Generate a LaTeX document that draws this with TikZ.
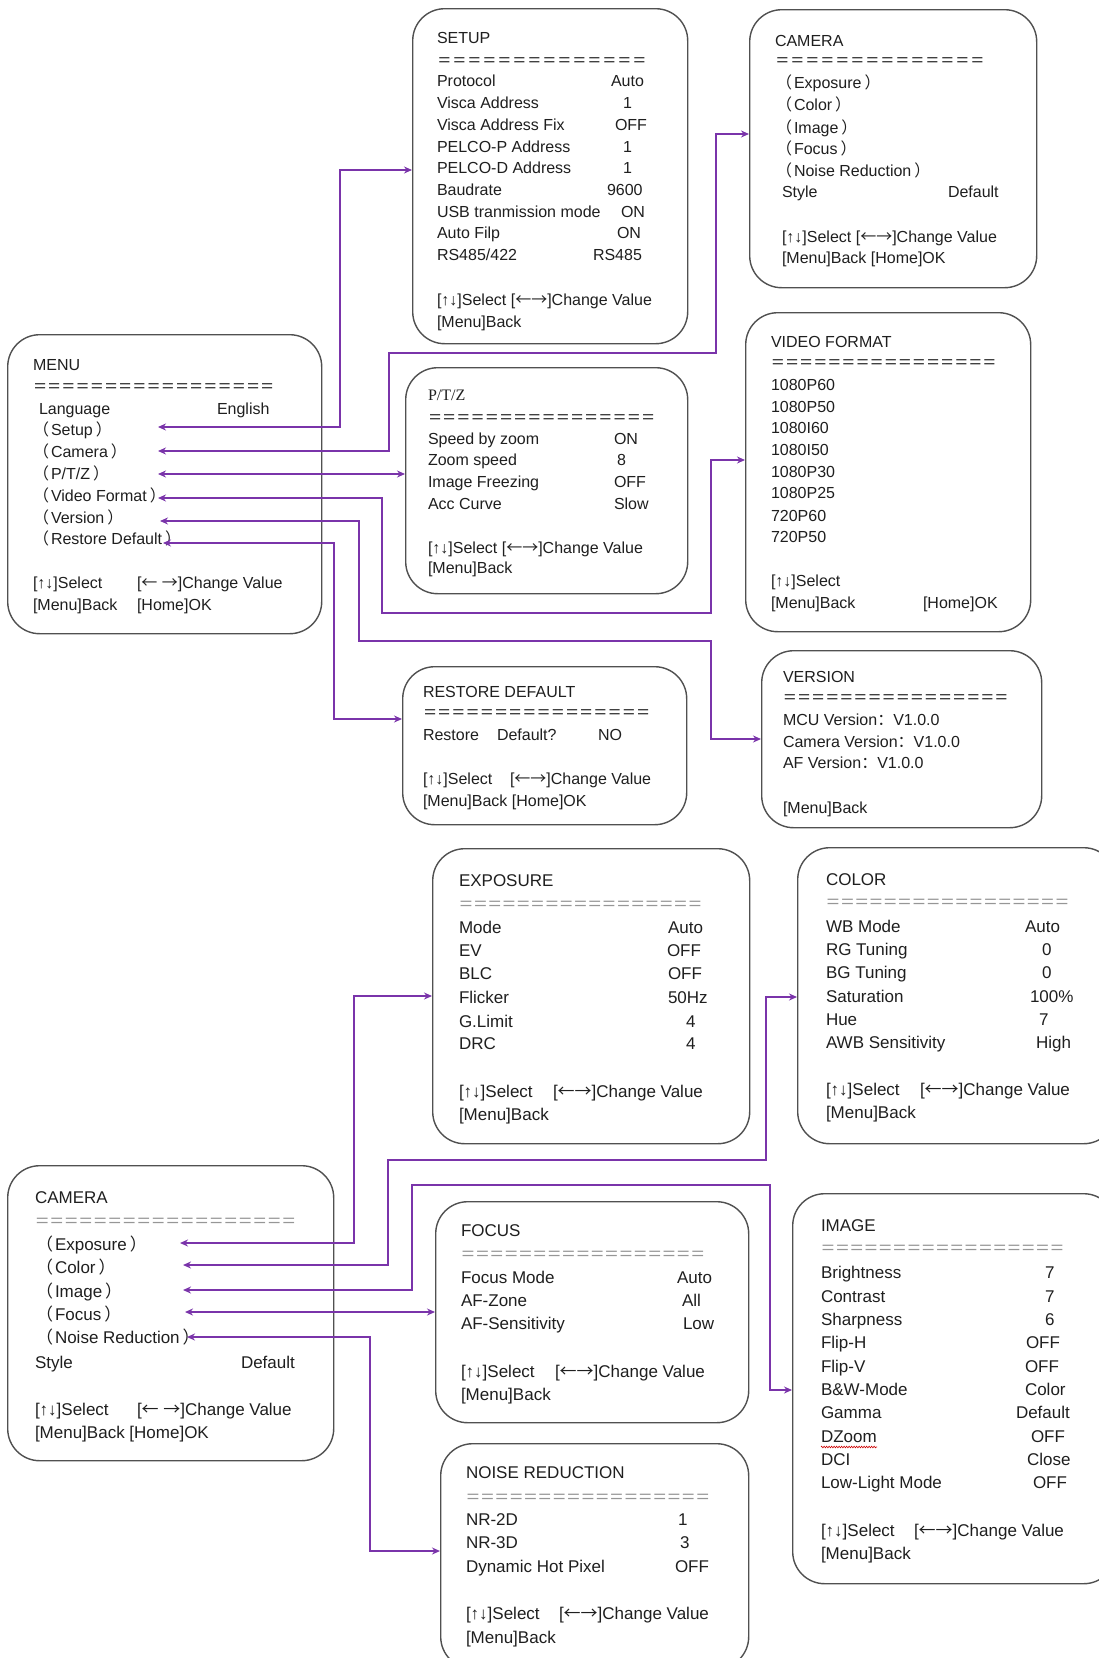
\documentclass[tikz,border=0pt]{standalone}
\usepackage{fontspec}
\usepackage{graphicx}
\setmainfont{Liberation Sans}
\newfontfamily\cjk{Noto Sans CJK SC}
\newfontfamily\serifP{Liberation Serif}
\usetikzlibrary{arrows.meta,decorations.pathmorphing}
\definecolor{conncol}{RGB}{122,52,170}
\definecolor{boxcol}{RGB}{80,80,80}
\definecolor{eqgray}{RGB}{150,150,150}
\newcounter{tn}
\newcount\eqcnt
\newcommand\eqrow[2]{\eqcnt=#1\relax\loop\makebox[#2pt]{\scalebox{1.3}[1]{=}}\advance\eqcnt by -1\relax\ifnum\eqcnt>0\repeat}
\newcommand\T[2]{\stepcounter{tn}\edef\tnm{t\number\value{tn}}\node[txt] (\tnm) at (#1) {#2};}
\newcommand\R[4]{\T{\bx,#1}{#2}\T{#3,#1}{#4}}
\newcommand\Ln[2]{\T{\bx,#1}{#2}}
\newcommand\lp{{\cjk （}\hspace{2pt}}
\newcommand\rp{\hspace{3pt}{\cjk ）}}
\newcommand\fc{{\cjk ：}}
\newcommand\LR{{\cjk ←→}}
\newcommand\LsR{{\cjk ←} {\cjk →}}
\def\tf{\fontsize{16}{19}\selectfont}
\tikzset{
  txt/.style={anchor=base west, inner sep=0pt, outer sep=0pt, text=black!88, font=\tf},
  box/.style={draw=boxcol, line width=1.4pt, rounded corners=32pt, anchor=north west, inner sep=0pt, fill=white},
  conn/.style={draw=conncol, line width=1.8pt, arrows={Stealth[length=8pt,width=7pt]-Stealth[length=8pt,width=7pt]}}
}
\begin{document}
\begin{tikzpicture}[x=1pt,y=-1pt]
\useasboundingbox (0,0) rectangle (1099,1658);
\clip (0,0) rectangle (1099,1658);
\fill[white] (0,0) rectangle (1099,1658);

% ---------------- boxes ----------------
\node[box, minimum width=314pt, minimum height=299pt] (menu) at (7,334) {};
\node[box, minimum width=275pt, minimum height=335pt] (setup) at (412,8) {};
\node[box, minimum width=287pt, minimum height=278pt] (camA) at (749,9) {};
\node[box, minimum width=282pt, minimum height=226pt] (ptz) at (405,367) {};
\node[box, minimum width=285pt, minimum height=319pt] (vf) at (745,312) {};
\node[box, minimum width=284pt, minimum height=158pt] (rd) at (402,666) {};
\node[box, minimum width=280pt, minimum height=177pt] (ver) at (761,650) {};
\node[box, minimum width=326pt, minimum height=295pt] (camB) at (7,1165) {};
\node[box, minimum width=317pt, minimum height=295pt] (expo) at (432,848) {};
\node[box, minimum width=318pt, minimum height=296pt] (color) at (797,847) {};
\node[box, minimum width=313pt, minimum height=221pt] (focus) at (435,1201) {};
\node[box, minimum width=308pt, minimum height=225pt] (nr) at (440,1443) {};
\node[box, minimum width=323pt, minimum height=390pt] (image) at (792,1193) {};

% ---------------- MENU ----------------
\def\bx{33}
\Ln{370}{MENU}
\Ln{391}{\eqrow{17}{14.2}}
\T{39,414}{Language}\T{217,414}{English}
\Ln{435}{\lp Setup\rp}
\Ln{457}{\lp Camera\rp}
\Ln{479}{\lp P/T/Z\rp}
\Ln{501}{\lp Video Format\rp}
\Ln{523}{\lp Version\rp}
\Ln{544}{\lp Restore Default\rp}
\R{588}{[↑↓]Select}{137}{[\LsR]Change Value}
\R{610}{[Menu]Back}{137}{[Home]OK}

% ---------------- SETUP ----------------
\def\bx{437}
\Ln{43}{SETUP}
\Ln{65}{\eqrow{14}{15}}
\R{86}{Protocol}{611}{Auto}
\R{108}{Visca Address}{623}{1}
\R{130}{Visca Address Fix}{615}{OFF}
\R{152}{PELCO-P Address}{623}{1}
\R{173}{PELCO-D Address}{623}{1}
\R{195}{Baudrate}{607}{9600}
\R{217}{USB tranmission mode}{621}{ON}
\R{238}{Auto Filp}{617}{ON}
\R{260}{RS485/422}{593}{RS485}
\Ln{305}{[↑↓]Select [\LR]Change Value}
\Ln{327}{[Menu]Back}

% ---------------- CAMERA (top) ----------------
\def\bx{776}
\T{775,46}{CAMERA}
\T{775,65}{\eqrow{14}{15}}
\Ln{88}{\lp Exposure\rp}
\Ln{110}{\lp Color\rp}
\Ln{133}{\lp Image\rp}
\Ln{154}{\lp Focus\rp}
\Ln{176}{\lp Noise Reduction\rp}
\def\bx{782}
\R{197}{Style}{948}{Default}
\Ln{242}{[↑↓]Select [\LR]Change Value}
\Ln{263}{[Menu]Back [Home]OK}

% ---------------- P/T/Z ----------------
\def\bx{428}
\Ln{400}{\serifP P/T/Z}
\Ln{422}{\eqrow{16}{14.2}}
\R{444}{Speed by zoom}{614}{ON}
\R{465}{Zoom speed}{617}{8}
\R{487}{Image Freezing}{614}{OFF}
\R{509}{Acc Curve}{614}{Slow}
\Ln{553}{[↑↓]Select [\LR]Change Value}
\Ln{573}{[Menu]Back}

% ---------------- VIDEO FORMAT ----------------
\def\bx{771}
\Ln{347}{VIDEO FORMAT}
\Ln{367}{\eqrow{16}{14.1}}
\Ln{390}{1080P60}
\Ln{412}{1080P50}
\Ln{433}{1080I60}
\Ln{455}{1080I50}
\Ln{477}{1080P30}
\Ln{498}{1080P25}
\Ln{521}{720P60}
\Ln{542}{720P50}
\Ln{586}{[↑↓]Select}
\R{608}{[Menu]Back}{923}{[Home]OK}

% ---------------- RESTORE DEFAULT ----------------
\def\bx{423}
\Ln{697}{RESTORE DEFAULT}
\Ln{717}{\eqrow{16}{14.2}}
\R{740}{Restore}{497}{Default?}
\T{598,740}{NO}
\R{784}{[↑↓]Select}{510}{[\LR]Change Value}
\Ln{806}{[Menu]Back [Home]OK}

% ---------------- VERSION ----------------
\def\bx{783}
\Ln{682}{VERSION}
\Ln{702}{\eqrow{16}{14.1}}
\Ln{725}{MCU Version\fc V1.0.0}
\Ln{747}{Camera Version\fc V1.0.0}
\Ln{768}{AF Version\fc V1.0.0}
\Ln{813}{[Menu]Back}

% ================= bottom half =================
\def\tf{\fontsize{17}{20}\selectfont}

% ---------------- CAMERA (bottom) ----------------
\def\bx{35}
\Ln{1203}{CAMERA}
\Ln{1226}{\color{eqgray}\eqrow{18}{14.5}}
\T{36,1250}{\lp Exposure\rp}
\T{36,1273}{\lp Color\rp}
\T{36,1297}{\lp Image\rp}
\T{36,1320}{\lp Focus\rp}
\T{36,1343}{\lp Noise Reduction\rp}
\R{1368}{Style}{241}{Default}
\R{1415}{[↑↓]Select}{137}{[\LsR]Change Value}
\Ln{1438}{[Menu]Back [Home]OK}

% ---------------- EXPOSURE ----------------
\def\bx{459}
\Ln{886}{EXPOSURE}
\Ln{909}{\color{eqgray}\eqrow{17}{14.3}}
\R{933}{Mode}{668}{Auto}
\R{956}{EV}{667}{OFF}
\R{979}{BLC}{668}{OFF}
\R{1003}{Flicker}{668}{50Hz}
\R{1027}{G.Limit}{686}{4}
\R{1049}{DRC}{686}{4}
\R{1097}{[↑↓]Select}{553}{[\LR]Change Value}
\Ln{1120}{[Menu]Back}

% ---------------- COLOR ----------------
\def\bx{826}
\Ln{885}{COLOR}
\Ln{907}{\color{eqgray}\eqrow{17}{14.3}}
\R{932}{WB Mode}{1025}{Auto}
\R{955}{RG Tuning}{1042}{0}
\R{978}{BG Tuning}{1042}{0}
\R{1002}{Saturation}{1030}{100\%}
\R{1025}{Hue}{1039}{7}
\R{1048}{AWB Sensitivity}{1036}{High}
\R{1095}{[↑↓]Select}{920}{[\LR]Change Value}
\Ln{1118}{[Menu]Back}

% ---------------- FOCUS ----------------
\def\bx{461}
\Ln{1236}{FOCUS}
\Ln{1259}{\color{eqgray}\eqrow{17}{14.35}}
\R{1283}{Focus Mode}{677}{Auto}
\R{1306}{AF-Zone}{682}{All}
\R{1329}{AF-Sensitivity}{683}{Low}
\R{1377}{[↑↓]Select}{555}{[\LR]Change Value}
\Ln{1400}{[Menu]Back}

% ---------------- NOISE REDUCTION ----------------
\def\bx{466}
\Ln{1478}{NOISE REDUCTION}
\Ln{1502}{\color{eqgray}\eqrow{17}{14.35}}
\R{1525}{NR-2D}{678}{1}
\R{1548}{NR-3D}{680}{3}
\R{1572}{Dynamic Hot Pixel}{675}{OFF}
\R{1619}{[↑↓]Select}{559}{[\LR]Change Value}
\Ln{1643}{[Menu]Back}

% ---------------- IMAGE ----------------
\def\bx{821}
\Ln{1231}{IMAGE}
\Ln{1253}{\color{eqgray}\eqrow{17}{14.3}}
\R{1278}{Brightness}{1045}{7}
\R{1302}{Contrast}{1045}{7}
\R{1325}{Sharpness}{1045}{6}
\R{1348}{Flip-H}{1026}{OFF}
\R{1372}{Flip-V}{1025}{OFF}
\R{1395}{B\&W-Mode}{1025}{Color}
\R{1418}{Gamma}{1016}{Default}
\R{1442}{DZoom}{1031}{OFF}
\R{1465}{DCI}{1027}{Close}
\R{1488}{Low-Light Mode}{1033}{OFF}
\R{1536}{[↑↓]Select}{914}{[\LR]Change Value}
\Ln{1559}{[Menu]Back}
\draw[red!80!black, line width=0.6pt, decorate, decoration={zigzag, segment length=2.5pt, amplitude=0.8pt}] (821,1447) -- (877,1447);

% ---------------- connector end points ----------------
\coordinate (mSetup) at (158,427);
\coordinate (mCamera) at (158,451);
\coordinate (mPTZ) at (158,474);
\coordinate (mVF) at (158,498);
\coordinate (mVer) at (160,521);
\coordinate (mRD) at (163,543);
\coordinate (iSetup) at (setup.west |- 0,170);
\coordinate (iCamA) at (camA.west |- 0,134);
\coordinate (iPTZ) at (ptz.west |- 0,474);
\coordinate (iVF) at (vf.west |- 0,460);
\coordinate (iVer) at (ver.west |- 0,739);
\coordinate (iRD) at (rd.west |- 0,719);

\coordinate (cExp) at (180,1243);
\coordinate (cColor) at (183,1265);
\coordinate (cImage) at (183,1290);
\coordinate (cFocus) at (185,1312);
\coordinate (cNR) at (187,1337);
\coordinate (iExp) at (expo.west |- 0,996);
\coordinate (iColor) at (color.west |- 0,997);
\coordinate (iImage) at (image.west |- 0,1390);
\coordinate (iFocus) at (focus.west |- 0,1312);
\coordinate (iNR) at (nr.west |- 0,1551);

% ---------------- connectors ----------------
\draw[conn] (mSetup) -- (340,427) |- (iSetup);
\draw[conn] (mCamera) -- (389,451) -- (389,353) -- (716,353) |- (iCamA);
\draw[conn] (mPTZ) -- (iPTZ);
\draw[conn] (mVF) -- (382,498) -- (382,613) -- (711,613) |- (iVF);
\draw[conn] (mVer) -- (359,521) -- (359,641) -- (711,641) |- (iVer);
\draw[conn] (mRD) -- (334,543) |- (iRD);

\draw[conn] (cExp) -- (354,1243) |- (iExp);
\draw[conn] (cColor) -- (388,1265) -- (388,1160) -- (766,1160) |- (iColor);
\draw[conn] (cImage) -- (412,1290) -- (412,1185) -- (770,1185) |- (iImage);
\draw[conn] (cFocus) -- (iFocus);
\draw[conn] (cNR) -- (370,1337) |- (iNR);
\end{tikzpicture}
\end{document}
